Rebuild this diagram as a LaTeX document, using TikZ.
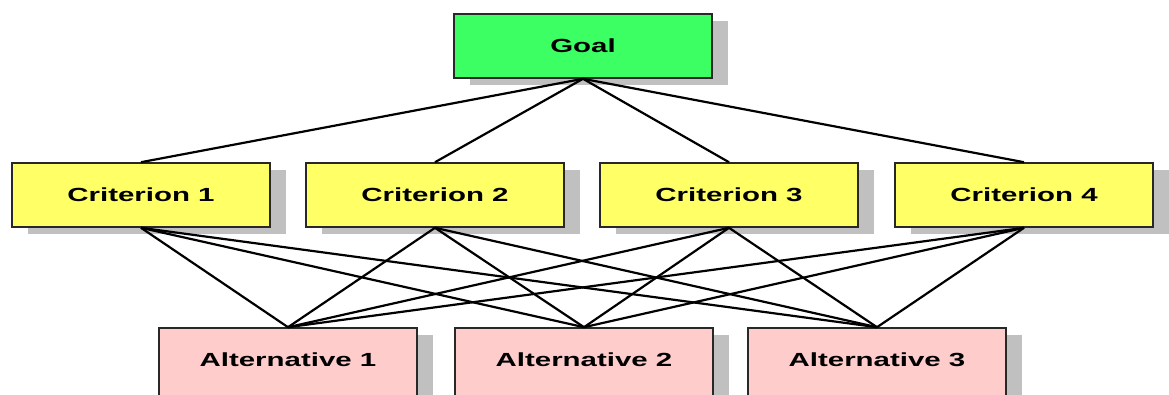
\documentclass[tikz,border=0pt]{standalone}
\usepackage{fontspec}
\newfontfamily\boxfont[FakeStretch=1.55]{Liberation Sans}
\usetikzlibrary{shadows}
\definecolor{goalgreen}{RGB}{60,255,100}
\definecolor{crityellow}{RGB}{255,255,102}
\definecolor{altpink}{RGB}{255,204,204}
\definecolor{shadowgray}{RGB}{192,192,192}
\definecolor{edgegray}{RGB}{40,40,40}
\tikzset{
  hbox/.style={draw=edgegray, line width=1.6pt, minimum width=258pt, minimum height=64pt,
    inner sep=0pt, font=\boxfont\bfseries\fontsize{19}{22}\selectfont,
    general shadow={fill=shadowgray, shadow xshift=16pt, shadow yshift=-7pt}},
  goalbox/.style={hbox, fill=goalgreen},
  critbox/.style={hbox, fill=crityellow},
  altbox/.style={hbox, fill=altpink, minimum height=68pt, text depth=5pt},
  link/.style={draw=black, line width=2.2pt}
}
\begin{document}
\begin{tikzpicture}[x=1pt,y=-1pt]
  \useasboundingbox (0,0) rectangle (1169,394);
  \begin{scope}
    \clip (0,0) rectangle (1169,394);
    % goal
    \node[goalbox] (goal) at (583,46) {Goal};
    % criteria
    \node[critbox] (c1) at (141,195) {Criterion 1};
    \node[critbox] (c2) at (435,195) {Criterion 2};
    \node[critbox] (c3) at (729,195) {Criterion 3};
    \node[critbox] (c4) at (1024,195) {Criterion 4};
    % alternatives (their lower edge runs past the page)
    \node[altbox] (a1) at (288,362) {Alternative 1};
    \node[altbox] (a2) at (584,362) {Alternative 2};
    \node[altbox] (a3) at (877,362) {Alternative 3};
    % goal to criteria
    \foreach \c in {c1,c2,c3,c4}
      \draw[link] (goal.south) -- (\c.north);
    % criteria to alternatives
    \foreach \c in {c1,c2,c3,c4}
      \foreach \a in {a1,a2,a3}
        \draw[link] (\c.south) -- (\a.north);
  \end{scope}
\end{tikzpicture}
\end{document}
